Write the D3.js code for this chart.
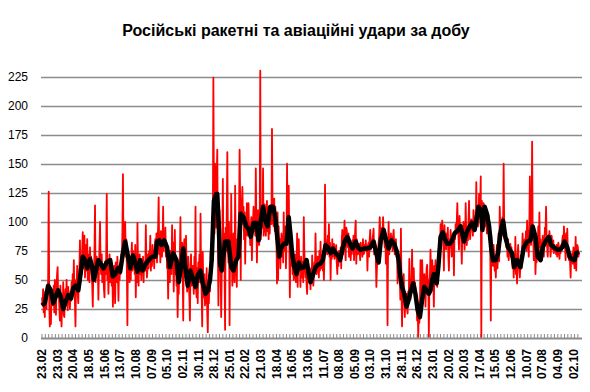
<!DOCTYPE html>
<html><head><meta charset="utf-8">
<script src="https://cdn.jsdelivr.net/npm/d3@7"></script>
<style>body{margin:0;background:#fff}svg{display:block}</style>
</head><body><svg id="c" width="590" height="392"></svg>
<script>
const title = "Російські ракетні та авіаційні удари за добу";
const dateLabels = ["23.02","23.03","20.04","18.05","15.06","13.07","10.08","07.09","05.10","02.11","30.11","28.12","25.01","22.02","21.03","18.04","16.05","13.06","11.07","08.08","05.09","03.10","31.10","28.11","26.12","23.01","20.02","20.03","17.04","15.05","12.06","10.07","07.08","04.09","02.10"];
const labelStep = 28;
const yTicks = [0,25,50,75,100,125,150,175,200,225];
// daily strikes (red)
const daily = [
35,28,42,22,30,18,40,33,25,45,
38,50,126,30,10,25,12,40,35,28,
30,45,22,50,38,20,42,55,61,35,
40,28,15,45,25,10,30,22,48,20,
18,35,42,28,50,36,24,44,30,38,
25,40,32,48,35,55,38,67,42,30,
10,50,45,62,38,30,52,60,84,48,
62,55,75,91,60,70,88,52,66,80,
58,85,50,72,65,48,78,60,70,55,
45,27,60,50,75,114,48,62,70,55,
65,33,58,80,100,62,55,72,48,60,
58,42,35,66,55,70,124,50,62,38,
60,72,48,58,68,45,55,27,50,62,
52,30,65,58,48,70,55,32,62,50,
60,55,72,68,90,141,80,95,88,100,
70,85,60,11,75,65,55,48,62,50,
68,82,58,75,60,70,55,80,35,62,
48,99,60,45,65,72,55,68,50,62,
55,70,48,66,60,58,97,65,52,60,
72,60,75,68,88,58,70,62,80,66,
75,60,78,85,70,90,65,82,95,121,
72,88,65,92,80,70,85,113,75,90,
78,95,70,82,60,65,34,70,55,48,
75,62,55,97,60,82,40,70,93,55,
62,45,55,18,50,38,60,72,104,55,
70,82,60,15,78,85,65,52,88,60,
40,55,70,48,35,15,60,72,45,55,
62,48,38,70,55,113,42,35,60,30,
65,50,72,48,107,55,40,10,74,45,
35,55,28,48,30,60,22,5,45,30,
55,40,74,62,74,85,95,224,120,90,
150,110,95,140,162,87,28,67,110,75,
60,18,55,85,137,70,90,60,7,95,
75,110,160,88,65,100,11,80,60,124,
70,45,55,90,62,48,131,75,60,44,
85,72,95,110,162,120,50,105,115,130,
98,113,85,108,64,100,92,116,88,105,
116,90,98,80,95,104,67,88,100,113,
92,105,88,146,100,65,90,110,84,80,
90,230,85,101,100,95,146,88,100,115,
95,88,105,118,92,100,85,110,90,110,
105,98,180,115,100,96,120,92,113,85,
85,47,108,50,96,72,85,60,78,90,
70,88,65,108,75,82,96,60,80,150,
95,110,131,85,35,70,90,62,80,55,
68,50,60,72,55,48,62,90,44,70,
85,58,65,44,70,55,52,66,48,104,
75,60,52,68,45,38,62,58,52,48,
55,42,60,48,71,55,45,52,65,58,
90,62,55,67,70,60,52,75,58,83,
60,65,71,58,75,50,68,132,85,80,
80,72,88,75,98,70,82,50,76,68,
85,70,75,81,68,72,76,80,65,55,
72,62,75,68,66,78,60,85,93,72,
80,88,101,75,67,95,93,82,78,90,
70,85,78,67,80,72,84,75,88,67,
80,92,101,64,85,78,72,80,81,75,
67,82,75,78,70,85,72,73,80,76,
84,75,80,58,78,82,70,85,93,76,
80,78,85,88,94,72,82,78,70,44,
60,70,75,82,88,104,90,78,84,95,
88,104,92,85,78,90,64,82,75,11,
80,100,72,85,78,90,82,87,75,88,
93,80,72,78,85,70,75,47,72,67,
60,50,33,94,40,10,45,38,55,30,
18,35,28,38,25,21,40,30,68,35,
33,45,52,76,40,50,60,41,48,44,
35,28,15,30,1,22,13,25,67,20,
40,67,50,35,41,55,48,27,45,60,
63,42,50,1,48,55,76,45,60,67,
58,50,27,62,48,67,55,50,44,60,
72,78,85,70,98,88,95,101,90,80,
58,97,85,80,76,90,82,95,70,58,
85,78,93,82,70,78,88,80,54,92,
85,98,90,100,116,95,88,76,105,92,
98,85,64,90,84,100,92,76,88,116,
90,80,95,84,100,118,92,85,93,102,
101,95,88,110,104,92,98,93,134,100,
110,96,105,124,108,115,139,1,118,101,
108,116,110,105,96,112,100,90,105,98,
106,92,85,76,15,88,70,67,62,80,
70,58,65,52,72,80,60,75,90,66,
113,95,84,100,92,104,88,150,96,85,
90,82,78,80,70,85,67,75,72,81,
70,78,67,60,72,52,65,58,87,55,
60,47,72,80,65,58,52,62,70,60,
75,90,68,84,78,85,80,92,75,101,
88,82,70,95,139,85,80,92,169,95,
88,67,78,85,55,72,65,80,75,96,
70,108,78,85,80,72,67,88,75,70,
82,95,90,113,85,78,70,88,80,92,
85,70,78,88,81,76,84,73,80,77,
78,72,80,70,75,82,78,68,76,73,
80,75,84,88,78,96,85,80,67,90,
82,94,75,72,67,70,65,52,72,68,
73,64,78,67,60,70,87,58,75,80,
78,70,74];
// trend (black): day index and value
const trendDay = [0,5,11,16,20,24,29,34,38,42,47,52,56,60,65,69,73,77,81,86,90,93,98,101,104,110,116,122,127,131,136,140,145,149,153,158,163,167,171,176,180,185,191,197,203,206,210,214,219,224,229,235,241,245,249,253,257,261,266,271,275,279,284,288,293,297,301,304,308,312,314,317,319,322,328,334,339,343,348,352,356,361,366,370,374,379,384,388,392,396,400,404,409,414,418,422,425,428,433,438,442,445,448,452,456,460,464,469,474,478,481,486,490,494,499,503,508,512,517,521,526,532,534,538,542,547,552,556,562,566,571,577,583,588,594,599,603,607,612,617,621,626,631,636,639,642,645,649,653,657,661,665,669,673,677,681,685,689,693,696,699,702,707,710,714,718,722,726,730,734,739,744,750,756,760,766,770,775,778,782,786,789,793,797,801,805,808,813,817,821,826,830,835,838,842,846,851,857,863,869,875,879,884,888,893,897,903,908,912,917,923,927,932,936,941,945,949,954,957,962];
const trendValue = [28,30,45,41,30,35,41,35,25,31,37,34,43,45,41,55,70,67,60,68,61,50,61,67,65,60,65,67,53,55,60,57,73,83,73,60,71,65,57,67,58,63,67,70,70,83,84,80,84,78,61,73,67,48,61,77,60,45,58,50,44,54,58,47,38,41,50,67,118,124,124,93,64,58,83,83,61,58,67,70,107,104,96,94,87,99,99,84,101,113,101,96,113,113,104,84,70,77,81,81,104,90,73,61,55,65,60,61,67,55,48,55,61,63,64,67,80,78,73,77,73,70,67,76,83,87,81,77,83,78,76,77,77,78,83,73,65,84,93,83,77,84,81,74,67,53,44,38,27,33,41,47,38,24,18,33,44,41,38,41,50,55,47,61,87,91,85,81,81,83,90,92,96,83,90,96,99,93,101,113,110,93,113,107,96,76,67,67,73,90,101,87,78,76,73,61,67,61,78,83,84,96,87,70,67,78,84,87,80,78,76,76,78,83,78,70,68,67,73,74];

const svg = d3.select("#c");
const x = d3.scaleLinear().domain([0, daily.length - 1]).range([42, 579]);
const y = d3.scaleLinear().domain([0, 225]).range([338, 76.5]);
const font = "'Liberation Sans', Arial, sans-serif";

svg.append("text").attr("x", 296).attr("y", 36).attr("text-anchor", "middle")
  .style("font-family", font).style("font-weight", "bold").style("font-size", "16px")
  .text(title);

// grid
svg.append("g").selectAll("line").data(yTicks.filter(t => t > 0)).join("line")
  .attr("x1", 41).attr("x2", 582)
  .attr("y1", d => Math.round(y(d)) + 0.5).attr("y2", d => Math.round(y(d)) + 0.5)
  .attr("stroke", "#8c8c8c").attr("stroke-width", 1.3);

// y labels
svg.append("g").selectAll("text").data(yTicks).join("text")
  .attr("x", 28).attr("y", d => y(d)).attr("dy", "0.35em").attr("text-anchor", "end")
  .style("font-family", font).style("font-size", "12px").attr("fill", "#000")
  .text(d => d);

// x axis line with inside ticks
svg.append("line").attr("x1", 41).attr("x2", 582).attr("y1", 338.5).attr("y2", 338.5)
  .attr("stroke", "#8c8c8c").attr("stroke-width", 2);
svg.append("g").selectAll("line").data(d3.range(0, daily.length, 6)).join("line")
  .attr("x1", d => x(d)).attr("x2", d => x(d)).attr("y1", 338).attr("y2", 334)
  .attr("stroke", "#8c8c8c").attr("stroke-width", 1);

// x labels
svg.append("g").selectAll("text").data(dateLabels).join("text")
  .attr("transform", (d, i) => `translate(${x(i * labelStep)},349) rotate(-90)`)
  .attr("dy", "0.35em").attr("text-anchor", "end")
  .style("font-family", font).style("font-weight", "bold").style("font-size", "12px")
  .text(d => d);

// red daily line
svg.append("path").datum(daily)
  .attr("d", d3.line().x((d, i) => x(i)).y(d => y(d)))
  .attr("fill", "none").attr("stroke", "#ff0000").attr("stroke-width", 1.8).attr("stroke-linejoin", "round");

// black trend
svg.append("path").datum(trendValue)
  .attr("d", d3.line().x((d, i) => x(trendDay[i])).y(d => y(d)))
  .attr("fill", "none").attr("stroke", "#000").attr("stroke-width", 4.5).attr("stroke-linejoin", "round");
</script></body></html>
